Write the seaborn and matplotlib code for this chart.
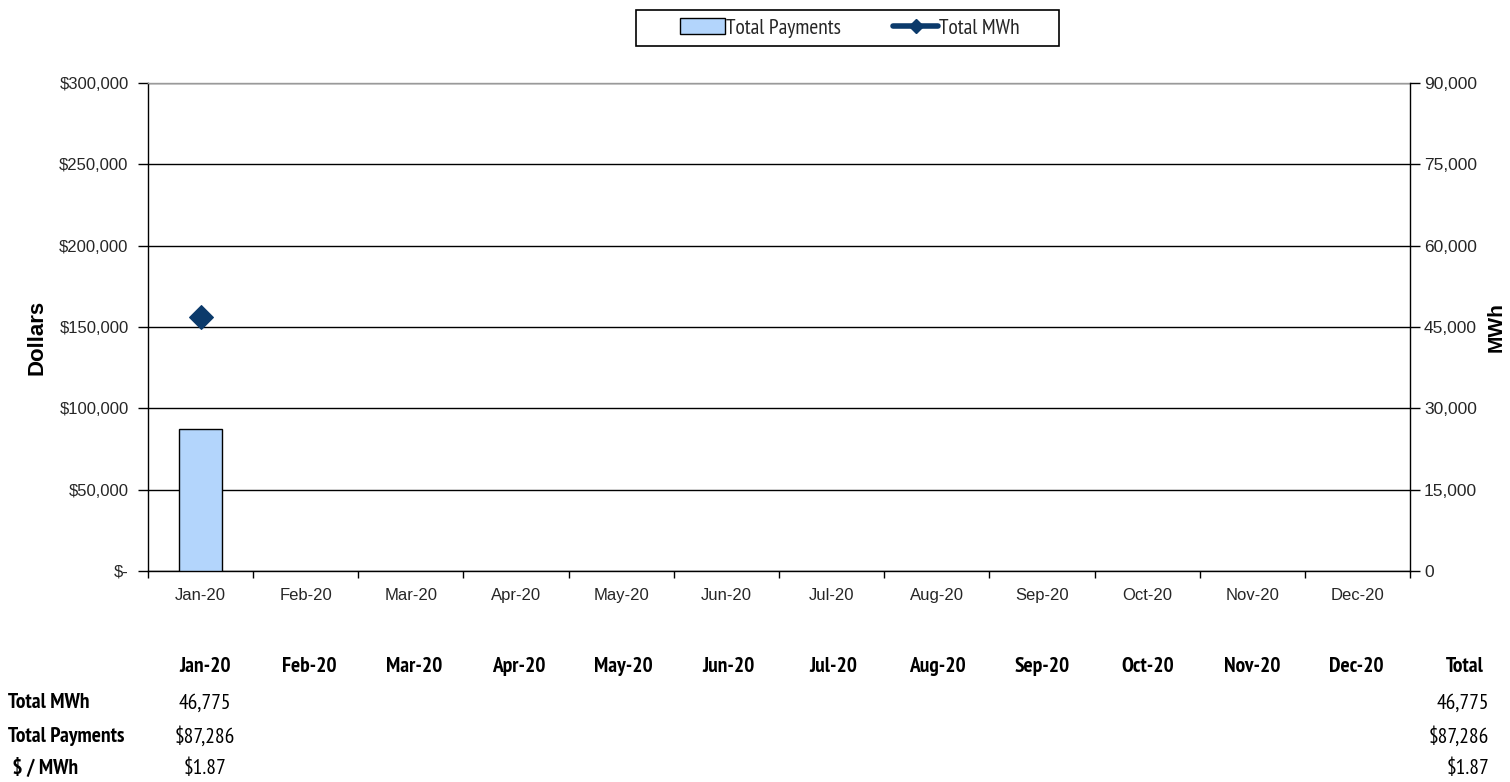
import numpy as np
import pandas as pd
import matplotlib
matplotlib.use("Agg")
import matplotlib.pyplot as plt
import seaborn as sns
from matplotlib.patches import Patch, Rectangle
from matplotlib.lines import Line2D
from matplotlib.ticker import FuncFormatter

# ---------------- data ----------------
months = ["Jan-20", "Feb-20", "Mar-20", "Apr-20", "May-20", "Jun-20",
          "Jul-20", "Aug-20", "Sep-20", "Oct-20", "Nov-20", "Dec-20"]
total_payments = [87286, np.nan, np.nan, np.nan, np.nan, np.nan,
                  np.nan, np.nan, np.nan, np.nan, np.nan, np.nan]
total_mwh = [46775, np.nan, np.nan, np.nan, np.nan, np.nan,
             np.nan, np.nan, np.nan, np.nan, np.nan, np.nan]
dollar_ticks = [0, 50000, 100000, 150000, 200000, 250000, 300000]
mwh_ticks = [0, 15000, 30000, 45000, 60000, 75000, 90000]
row_labels = ["Total MWh", "Total Payments", " $ / MWh"]

df = pd.DataFrame({"month": months, "payments": total_payments, "mwh": total_mwh})

# ---------------- style ----------------
sns.set_theme(style="white")
plt.rcParams["font.family"] = ["Liberation Sans", "DejaVu Sans"]
plt.rcParams["text.parse_math"] = False
NARROW = ["Liberation Sans Narrow", "Arial Narrow", "PT Sans Narrow", "Archivo Narrow",
          "Roboto Condensed", "Liberation Sans", "DejaVu Sans"]

bar_color = "#B3D5FC"
navy = "#0B3A6B"
tick_color = "#262626"

W, H = 1510, 782
fig = plt.figure(figsize=(W / 100, H / 100), dpi=100)
L, R, T, B = 148, 1410, 83, 571
ax = fig.add_axes([L / W, 1 - B / H, (R - L) / W, (B - T) / H])

sns.barplot(data=df, x="month", y="payments", order=months, color=bar_color,
            saturation=1, edgecolor="black", linewidth=1, width=0.41,
            errorbar=None, ax=ax, zorder=3)
ax.set_xlim(-0.5, len(months) - 0.5)
ax.set_ylim(dollar_ticks[0], dollar_ticks[-1])
ax.set_yticks(dollar_ticks)
ax.yaxis.set_major_formatter(FuncFormatter(lambda v, p: "$-" if v == 0 else f"${v:,.0f}"))
ax.set_axisbelow(True)
ax.yaxis.grid(True, color="black", linewidth=1)
ax.xaxis.grid(False)
ax.set_xlabel("")
ax.set_ylabel("Dollars", fontsize=16, fontweight="bold", color="black")
ax.yaxis.set_label_coords((48 - L) / (R - L), (B - 337) / (B - T))

ax.tick_params(axis="y", which="major", left=True, length=7, width=1, color="black",
               labelsize=12, labelcolor=tick_color, pad=7)
ax.tick_params(axis="x", which="major", bottom=False, length=0, labelsize=12,
               labelcolor=tick_color, pad=12)
ax.set_xticks(np.arange(-0.5, len(months), 1.0), minor=True)
ax.tick_params(axis="x", which="minor", bottom=True, length=5, width=1, color="black")

for s in ["left", "bottom"]:
    ax.spines[s].set_color("black")
    ax.spines[s].set_linewidth(1)
ax.spines["top"].set_color("#9a9a9a")
ax.spines["top"].set_linewidth(1)
ax.spines["right"].set_visible(False)

ax2 = ax.twinx()
sns.lineplot(data=df, x="month", y="mwh", marker="D", markersize=12, color=navy,
             markeredgecolor=navy, linewidth=3, ax=ax2, zorder=5)
ax2.set_ylim(mwh_ticks[0], mwh_ticks[-1])
ax2.set_yticks(mwh_ticks)
ax2.yaxis.set_major_formatter(FuncFormatter(lambda v, p: f"{v:,.0f}"))
ax2.set_ylabel("MWh", fontsize=15, fontweight="bold", color="black")
ax2.yaxis.set_label_coords((1487 - L) / (R - L), (B - 327) / (B - T))
ax2.tick_params(axis="y", right=True, length=7, width=1, color="black",
                labelsize=12.5, labelcolor=tick_color, pad=3)
ax2.grid(False)
for s in ["left", "top", "bottom"]:
    ax2.spines[s].set_visible(False)
ax2.spines["right"].set_color("black")
ax2.spines["right"].set_linewidth(1)
ax2.set_xlabel("")
ax.set_xlim(-0.5, len(months) - 0.5)

# ---------------- legend ----------------
handles = [Patch(facecolor=bar_color, edgecolor="black", linewidth=1, label="Total Payments"),
           Line2D([0], [0], color=navy, linewidth=4, marker="D", markersize=7,
                  markeredgecolor=navy, label="Total MWh")]
fig.legend(handles=handles, loc="center", bbox_to_anchor=(850 / W, 1 - 28 / H),
           ncol=2, frameon=False, prop={"family": NARROW, "size": 15.5},
           handlelength=2.1, handletextpad=0.05, columnspacing=2.4, borderpad=0)
fig.add_artist(Rectangle((636 / W, 1 - 46 / H), 423 / W, 36 / H, transform=fig.transFigure,
                         fill=False, edgecolor="black", linewidth=1.2))

# ---------------- data table ----------------
col_x = [205 + i * 104.7 for i in range(len(months))]
total_x_head, total_x_val = 1465, 1489
y_head, y_rows = 667, [703, 736, 768]
fs = 15.5

for x, m in zip(col_x, months):
    fig.text(x / W, 1 - y_head / H, m, ha="center", va="center", family=NARROW,
             fontsize=fs, fontweight="bold", color="black")
fig.text(total_x_head / W, 1 - y_head / H, "Total", ha="center", va="center", family=NARROW,
         fontsize=fs, fontweight="bold", color="black")
for y, lab in zip(y_rows, row_labels):
    fig.text(8 / W, 1 - y / H, lab, ha="left", va="center", family=NARROW,
             fontsize=fs, fontweight="bold", color="black")

for x, p, m in zip(col_x, total_payments, total_mwh):
    if np.isnan(p) or np.isnan(m):
        continue
    vals = [f"{m:,.0f}", f"${p:,.0f}", f"${p / m:,.2f}"]
    for y, v in zip(y_rows, vals):
        fig.text(x / W, 1 - y / H, v, ha="center", va="center", family=NARROW,
                 fontsize=fs, color="black")

tot_p = np.nansum(total_payments)
tot_m = np.nansum(total_mwh)
for y, v in zip(y_rows, [f"{tot_m:,.0f}", f"${tot_p:,.0f}", f"${tot_p / tot_m:,.2f}"]):
    fig.text(total_x_val / W, 1 - y / H, v, ha="right", va="center", family=NARROW,
             fontsize=fs, color="black")

fig.savefig("out.png", dpi=100, facecolor="white")
